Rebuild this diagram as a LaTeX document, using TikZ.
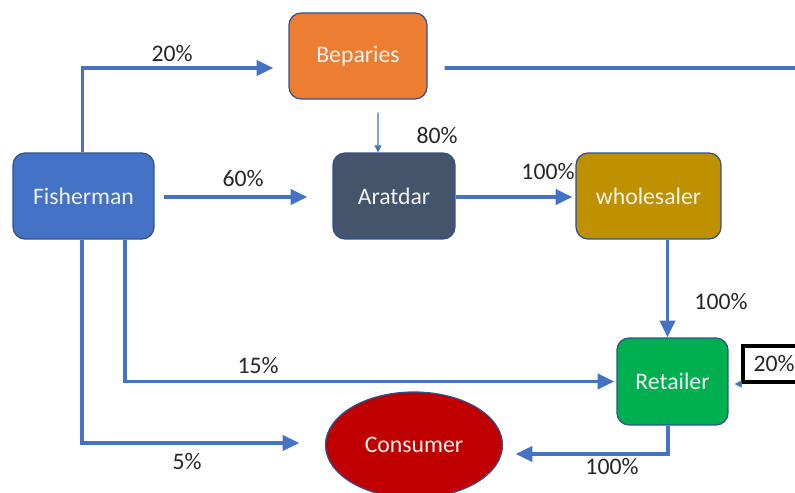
\documentclass[tikz,border=0pt]{standalone}
\usepackage{fontspec}
\setmainfont{Carlito}
\usetikzlibrary{arrows.meta,shapes.geometric}
\definecolor{flowblue}{HTML}{4472C4}
\definecolor{edgeblue}{HTML}{2F528F}
\definecolor{fishblue}{HTML}{4472C4}
\definecolor{beporange}{HTML}{ED7D31}
\definecolor{aratslate}{HTML}{44546A}
\definecolor{wholegold}{HTML}{BF9000}
\definecolor{retgreen}{HTML}{00B050}
\definecolor{conred}{HTML}{C00000}
\definecolor{labelgray}{HTML}{262626}
\definecolor{boxtext}{HTML}{F2F2F2}

\begin{document}
\begin{tikzpicture}[x=0.02cm,y=-0.02cm,
  font=\fontsize{13.5}{16}\selectfont,
  agent/.style={draw=edgeblue,line width=0.7pt,rounded corners=0.24cm,
    minimum height=1.72cm,text=boxtext},
  flow/.style={draw=flowblue,line width=2.1pt,-{Triangle[length=9.5pt,width=8.5pt]}},
  plain/.style={draw=flowblue,line width=2.1pt},
  thinflow/.style={draw=flowblue,line width=0.7pt,-{Triangle[length=4pt,width=4pt]}},
  share/.style={text=labelgray}]
  \useasboundingbox (0,0) rectangle (795,493);

  \node[agent,fill=fishblue,minimum width=2.82cm] (Fisherman) at (83.5,196) {Fisherman};
  \node[agent,fill=beporange,minimum width=2.76cm] (Beparies) at (358,56) {Beparies};
  \node[agent,fill=aratslate,minimum width=2.44cm] (Aratdar) at (394,196) {Aratdar};
  \node[agent,fill=wholegold,minimum width=2.9cm] (wholesaler) at (648.5,196) {wholesaler};
  \node[agent,fill=retgreen,minimum width=2.22cm,minimum height=1.74cm] (Retailer) at (672.5,381.5) {Retailer};
  \node[ellipse,draw=edgeblue,line width=0.7pt,fill=conred,text=boxtext,
    minimum width=3.54cm,minimum height=2.12cm,inner sep=0pt] (Consumer) at (414,445) {Consumer};
  \node[draw=black,line width=2.3pt,minimum width=1.24cm,minimum height=0.72cm,
    text=labelgray] (retshare) at (774,364) {20\%};
  \coordinate (exit) at (800,68);

  \draw[flow] ([xshift=-0.02cm]Fisherman.north) |- ([xshift=-0.3cm,yshift=-0.24cm]Beparies.west);
  \draw[plain] ([xshift=0.34cm,yshift=-0.24cm]Beparies.east) -- (exit);
  \draw[thinflow] ([xshift=0.4cm,yshift=-0.26cm]Beparies.south) -- ([xshift=-0.32cm]Aratdar.north);
  \draw[flow] ([xshift=0.19cm,yshift=-0.02cm]Fisherman.east) -- ([xshift=-0.5cm,yshift=-0.02cm]Aratdar.west);
  \draw[flow] ([yshift=-0.02cm]Aratdar.east) -- ([xshift=-0.06cm,yshift=-0.02cm]wholesaler.west);
  \draw[flow] ([xshift=0.38cm]wholesaler.south) -- ([xshift=0.38cm]wholesaler.south |- Retailer.north);
  \draw[flow] ([xshift=0.83cm]Fisherman.south) |- ([xshift=-0.04cm]Retailer.west);
  \draw[flow] ([xshift=-0.03cm]Fisherman.south) |- ([xshift=-0.51cm,yshift=0.04cm]Consumer.west);
  \draw[flow] ([xshift=-0.09cm]Retailer.south) |- ([xshift=0.25cm,yshift=-0.18cm]Consumer.east);
  \draw[thinflow] (retshare.south west) -- ([xshift=0.12cm]Retailer.east |- retshare.south west);

  \node[share] (l20) at (172,54) {20\%};
  \node[share] (l80) at (437,135) {80\%};
  \node[share] (l60) at (243,179) {60\%};
  \node[share] (l100a) at (548,172) {100\%};
  \node[share] (l100b) at (721,302) {100\%};
  \node[share] (l15) at (258,366) {15\%};
  \node[share] (l5) at (187,462) {5\%};
  \node[share] (l100c) at (612,467) {100\%};
\end{tikzpicture}
\end{document}
